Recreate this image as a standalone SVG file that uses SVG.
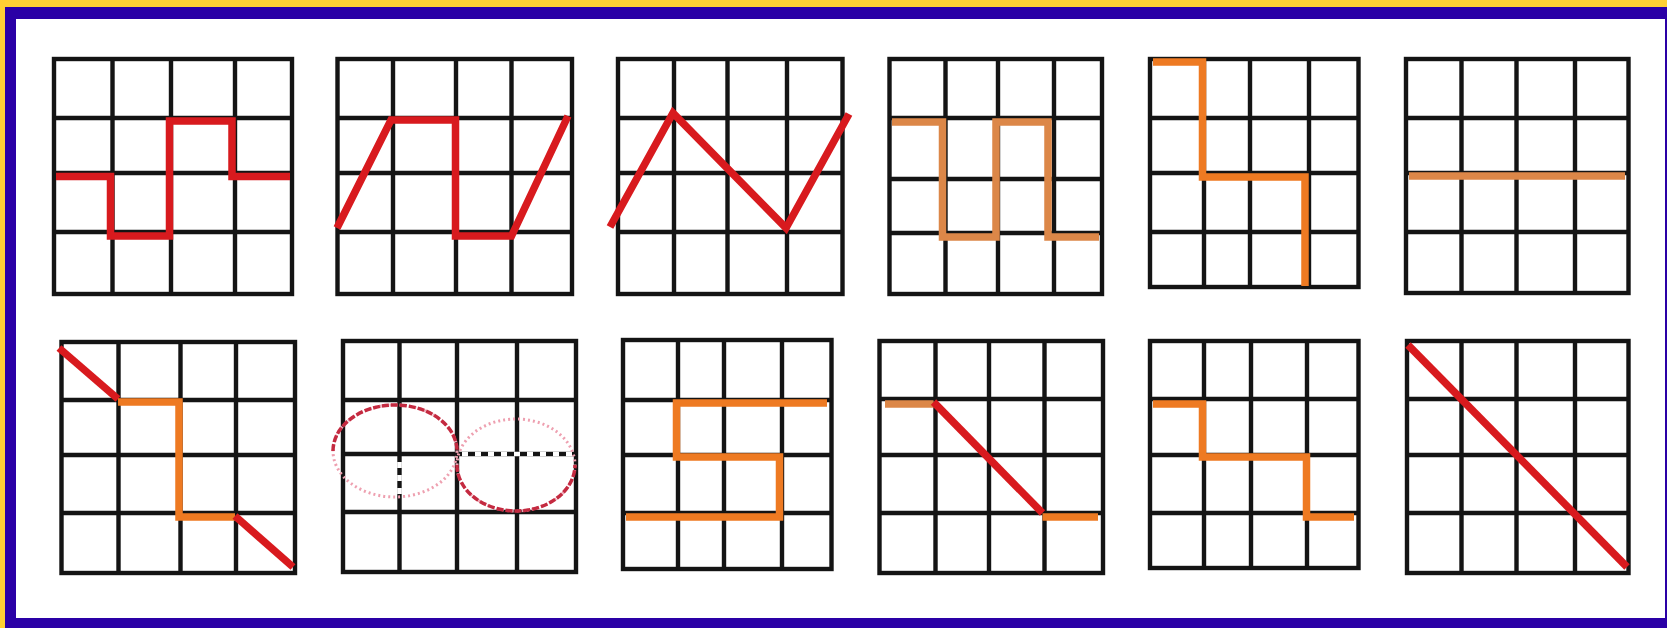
<svg xmlns="http://www.w3.org/2000/svg" width="1667" height="628" viewBox="0 0 1667 628">
<style>
.grid{fill:none;stroke:#141414;stroke-width:4.4}
.red{fill:none;stroke:#d81a1e;stroke-width:7.5}
.org{fill:none;stroke:#ee7a22;stroke-width:7.5}
.mut{fill:none;stroke:#dc8748;stroke-width:7.5}
.dk{fill:none;stroke:#c42a40;stroke-width:3.5;stroke-dasharray:7 2}
.lt{fill:none;stroke:#eea0b0;stroke-width:3;stroke-dasharray:2 3}
.wd{fill:none;stroke:#ffffff;stroke-width:4.6;stroke-dasharray:6 7}
</style>
<rect x="0" y="0" width="1667" height="628" fill="#2a00a6"/>
<rect x="0" y="0" width="1667" height="7" fill="#ffd034"/>
<rect x="0" y="0" width="5" height="628" fill="#ffd034"/>
<rect x="16" y="19" width="1649" height="599" fill="#ffffff"/>

<g id="g1">
<rect class="grid" x="54" y="59" width="238" height="235"/>
<path class="grid" d="M112.5,59V294M171,59V294M235,59V294M54,118H292M54,173H292M54,232H292"/>
<path class="red" d="M56,176.5H110.5V236H169.5V121H232V176.5H290"/>
</g>
<g id="g2">
<rect class="grid" x="337.5" y="59" width="234.5" height="235"/>
<path class="grid" d="M393,59V294M456,59V294M511.5,59V294M337.5,118H572M337.5,173H572M337.5,232H572"/>
<path class="red" d="M337,228L391,120H455.5V236H511.5L568,116"/>
</g>
<g id="g3">
<rect class="grid" x="618" y="59" width="224.5" height="235"/>
<path class="grid" d="M674,59V294M727.5,59V294M787,59V294M618,118H842.5M618,173H842.5M618,232H842.5"/>
<path class="red" d="M610,227L673,113L786,228L849,114"/>
</g>
<g id="g4">
<rect class="grid" x="889.5" y="59" width="212.5" height="235"/>
<path class="grid" d="M945.5,59V294M998,59V294M1054,59V294M889.5,118H1102M889.5,179H1102M889.5,233H1102"/>
<path class="mut" d="M892,122H942.5V237H996V122H1048V237H1099"/>
</g>
<g id="g5">
<rect class="grid" x="1150" y="59" width="208.5" height="228"/>
<path class="grid" d="M1204,59V287M1250,59V287M1309,59V287M1150,118H1358.5M1150,173H1358.5M1150,232H1358.5"/>
<path class="org" d="M1153,62H1202.5V177H1305V286"/>
</g>
<g id="g6">
<rect class="grid" x="1406" y="59" width="222.5" height="234"/>
<path class="grid" d="M1461.5,59V293M1516.5,59V293M1575,59V293M1406,118H1628.5M1406,173H1628.5M1406,232H1628.5"/>
<path class="mut" d="M1409,176H1625"/>
</g>

<g id="g7">
<rect class="grid" x="61.5" y="342" width="233.5" height="231"/>
<path class="grid" d="M118.5,342V573M180.5,342V573M236,342V573M61.5,400H295M61.5,455H295M61.5,513H295"/>
<path class="red" d="M59,348L118,399"/>
<path class="org" d="M118,402H179V517H235"/>
<path class="red" d="M235,516L293,567"/>
</g>
<g id="g8">
<rect class="grid" x="343" y="341" width="233" height="231"/>
<path class="grid" d="M399.5,341V572M457,341V572M517,341V572M343,400H576M343,454H576M343,512H576"/>
<path class="wd" d="M462,454H572M399.5,462V496"/>
<ellipse class="lt" cx="395" cy="451" rx="62" ry="46"/>
<ellipse class="lt" cx="516" cy="465" rx="59" ry="46"/>
<path class="dk" d="M333,451A62,46 0 0 1 457,451"/>
<path class="dk" d="M457,465A59,46 0 0 0 575,465"/>
</g>
<g id="g9">
<rect class="grid" x="623" y="340" width="208.5" height="229"/>
<path class="grid" d="M678,340V569M724,340V569M782,340V569M623,400H831.5M623,455H831.5M623,513H831.5"/>
<path class="org" d="M827,403H676.5V457H779.5V517H626"/>
</g>
<g id="g10">
<rect class="grid" x="879.5" y="341" width="223.5" height="232"/>
<path class="grid" d="M935.5,341V573M989,341V573M1044.5,341V573M879.5,399H1103M879.5,455H1103M879.5,513H1103"/>
<path class="mut" d="M885,404H933.5"/>
<path class="red" d="M933.5,402L1042.5,513"/>
<path class="org" d="M1042.5,517H1098"/>
</g>
<g id="g11">
<rect class="grid" x="1150" y="341" width="208.5" height="227"/>
<path class="grid" d="M1204,341V568M1251,341V568M1307,341V568M1150,399H1358.5M1150,455H1358.5M1150,513H1358.5"/>
<path class="org" d="M1153,404H1202.5V457H1306.5V517H1354"/>
</g>
<g id="g12">
<rect class="grid" x="1407" y="341" width="221.5" height="232"/>
<path class="grid" d="M1461.5,341V573M1516.5,341V573M1575,341V573M1407,399H1628.5M1407,455H1628.5M1407,513H1628.5"/>
<path class="red" d="M1408,345L1627,567"/>
</g>
<g id="connectors"/>
</svg>
